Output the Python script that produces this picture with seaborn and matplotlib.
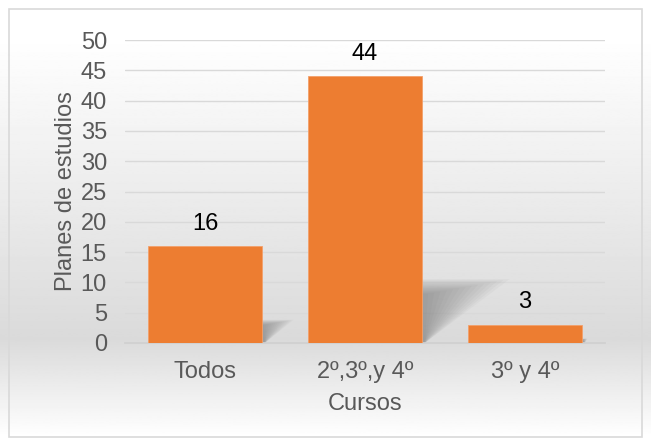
import numpy as np
import pandas as pd
import seaborn as sns
import matplotlib.pyplot as plt
from matplotlib.patches import Polygon, Rectangle

cursos = ["Todos", "2º,3º,y 4º", "3º y 4º"]
planes = [16, 44, 3]

df = pd.DataFrame({"Cursos": cursos, "Planes": planes})

sns.set_theme(style="white")
plt.rcParams['font.family'] = ['Liberation Sans', 'DejaVu Sans']

fig = plt.figure(figsize=(6.51, 4.46), dpi=100)

# background gradient (white -> light gray -> white), like the Excel chart area
bg = fig.add_axes([0, 0, 1, 1], zorder=-10)
rows = np.linspace(0, 1, 400)
stops_pos = [0.0, 0.08, 0.76, 0.98, 1.0]
stops_val = [1.0, 1.0, 0.855, 1.0, 1.0]
grad = np.interp(rows, stops_pos, stops_val)[:, None]
bg.imshow(grad, aspect="auto", cmap="gray", vmin=0, vmax=1, extent=[0, 1, 0, 1])
bg.add_patch(Rectangle((0.014, 0.02), 0.972, 0.96, fill=False, edgecolor="#d9d9d9", lw=1.2,
                       transform=bg.transAxes))
bg.set_axis_off()

ax = fig.add_axes([0.192, 0.231, 0.737, 0.679])
ax.patch.set_alpha(0)
sns.barplot(data=df, x="Cursos", y="Planes", color="#ED7D31", saturation=1, width=0.71,
            linewidth=0.6, edgecolor="#f3a06a", ax=ax, zorder=3)

# soft shadows cast to the right of each bar (stacked faint layers -> blurred look)
n = 14
for p in list(ax.patches):
    x0, x1, h = p.get_x(), p.get_x() + p.get_width(), p.get_height()
    shift = 0.0125 * h
    sh = 0.24 * h
    for k in range(n):
        f = 1 - k / n
        poly = Polygon([(x0, 0), (x1 + 0.02, 0), (x1 + shift * f, sh * (0.75 + 0.25 * f)),
                        (x0 + shift * f, sh * (0.75 + 0.25 * f))],
                       closed=True, facecolor="#606060", alpha=0.045, lw=0, zorder=2)
        ax.add_patch(poly)

for x, v in enumerate(planes):
    ax.text(x, v + 1.9, str(v), ha="center", va="bottom",
            fontsize=17, color="black", zorder=4)

ax.set_ylim(0, 50)
ax.set_xlim(-0.5, 2.5)
ax.set_yticks(range(0, 51, 5))
ax.yaxis.grid(True, color="#d9d9d9", lw=1)
ax.set_axisbelow(True)
for s in ["top", "right", "left"]:
    ax.spines[s].set_visible(False)
ax.spines["bottom"].set_color("#d0d0d0")
ax.tick_params(axis="both", length=0, labelsize=17, labelcolor="#595959")
ax.tick_params(axis="x", pad=13)
ax.tick_params(axis="y", pad=13)
ax.set_xlabel("Cursos", fontsize=17, color="#595959", labelpad=7)
ax.set_ylabel("Planes de estudios", fontsize=17, color="#595959", labelpad=3)

fig.savefig("out.png", dpi=100)
